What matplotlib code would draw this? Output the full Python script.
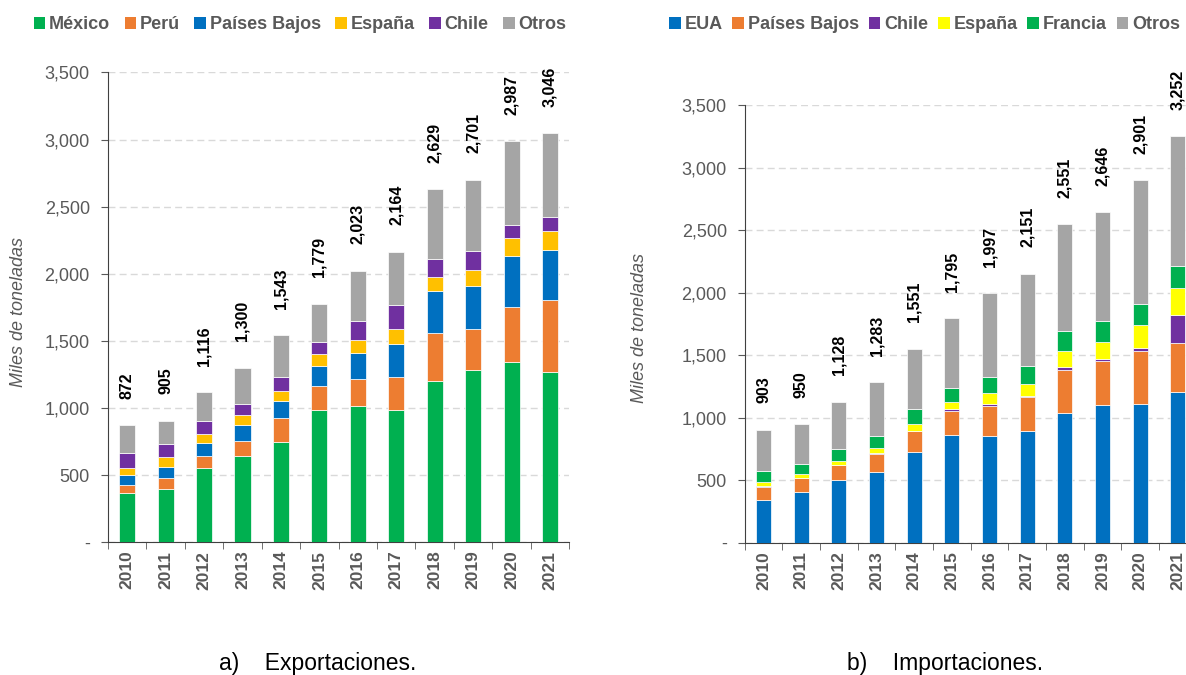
import matplotlib.pyplot as plt
import numpy as np
from matplotlib.patches import Patch
from matplotlib.ticker import FuncFormatter

plt.rcParams['font.family'] = ['Liberation Sans', 'DejaVu Sans']

years = [str(y) for y in range(2010, 2022)]

# a) Exportaciones (miles de toneladas)
exp_mexico = [370, 400, 557, 646, 746, 989, 1019, 989, 1198, 1280, 1345, 1265]
exp_peru = [57, 80, 87, 112, 181, 175, 199, 246, 363, 311, 410, 543]
exp_paises_bajos = [75, 82, 99, 119, 122, 149, 192, 244, 308, 321, 376, 370]
exp_espana = [55, 72, 67, 70, 77, 87, 94, 110, 110, 117, 139, 139]
exp_chile = [107, 102, 93, 85, 107, 89, 147, 176, 129, 144, 97, 104]
exp_otros = [208, 169, 213, 268, 310, 290, 372, 399, 521, 528, 620, 625]
exp_total = [872, 905, 1116, 1300, 1543, 1779, 2023, 2164, 2629, 2701, 2987, 3046]

# b) Importaciones (miles de toneladas)
imp_eua = [342, 408, 499, 566, 726, 864, 856, 896, 1035, 1104, 1112, 1208]
imp_paises_bajos = [106, 110, 121, 147, 168, 190, 240, 272, 347, 352, 422, 387]
imp_chile = [2, 2, 2, 2, 3, 13, 14, 6, 24, 14, 26, 227]
imp_espana = [33, 30, 30, 40, 53, 56, 88, 96, 128, 138, 182, 218]
imp_francia = [91, 82, 95, 100, 117, 117, 130, 144, 160, 166, 168, 176]
imp_otros = [329, 318, 381, 428, 484, 555, 669, 737, 857, 872, 991, 1036]
imp_total = [903, 950, 1128, 1283, 1551, 1795, 1997, 2151, 2551, 2646, 2901, 3252]

exp_series = [('México', exp_mexico, '#00B050'), ('Perú', exp_peru, '#ED7D31'),
              ('Países Bajos', exp_paises_bajos, '#0070C0'), ('España', exp_espana, '#FFC000'),
              ('Chile', exp_chile, '#7030A0'), ('Otros', exp_otros, '#A5A5A5')]
imp_series = [('EUA', imp_eua, '#0070C0'), ('Países Bajos', imp_paises_bajos, '#ED7D31'),
              ('Chile', imp_chile, '#7030A0'), ('España', imp_espana, '#FFFF00'),
              ('Francia', imp_francia, '#00B050'), ('Otros', imp_otros, '#A5A5A5')]

gray = '#595959'


def fmt(v, pos):
    return '-' if v == 0 else f'{v:,.0f}'


def stacked(ax, series, totals, width):
    x = np.arange(len(years))
    bottom = np.zeros(len(years))
    for name, vals, color in series:
        ax.bar(x, vals, width, bottom=bottom, color=color, edgecolor='white',
               linewidth=0.5, zorder=3)
        bottom += np.array(vals)
    for xi, t in zip(x, totals):
        ax.annotate(f'{t:,}', (xi, t), xytext=(0, 19), textcoords='offset points',
                    rotation=90, ha='center', va='bottom', fontsize=11.5,
                    fontweight='bold', color='black', annotation_clip=False)

    ax.set_xlim(-0.5, len(years) - 0.5)
    ax.set_ylim(0, 3500)
    ax.set_yticks(range(0, 3501, 500))
    ax.yaxis.set_major_formatter(FuncFormatter(fmt))
    ax.set_xticks(x)
    ax.set_xticklabels(years, rotation=90, fontsize=12.5, fontweight='bold', color=gray)
    ax.set_xticks(np.arange(-0.5, len(years)), minor=True)
    ax.tick_params(axis='x', which='major', length=0, pad=6)
    ax.tick_params(axis='x', which='minor', length=5, color=gray, direction='out')
    ax.tick_params(axis='y', length=5, color=gray, labelsize=13, labelcolor=gray, pad=8)
    ax.grid(axis='y', color='#D9D9D9', linestyle=(0, (5, 3)), linewidth=1, zorder=0)
    for s in ['top', 'right']:
        ax.spines[s].set_visible(False)
    for s in ['left', 'bottom']:
        ax.spines[s].set_color('#404040')
    ax.set_ylabel('Miles de toneladas', fontsize=13, style='italic', color=gray)


fig = plt.figure(figsize=(11.86, 6.75), dpi=100)

ax1 = fig.add_axes([0.091, 0.1966, 0.389, 0.696])
stacked(ax1, exp_series, exp_total, 0.42)
ax1.yaxis.set_label_coords(-0.175, 0.49)

ax2 = fig.add_axes([0.628, 0.196, 0.381, 0.648])
stacked(ax2, imp_series, imp_total, 0.4)
ax2.yaxis.set_label_coords(-0.215, 0.49)

for series, cx, sp in [(exp_series, 0.253, 0.8), (imp_series, 0.7795, 0.55)]:
    handles = [Patch(facecolor=c, label=n) for n, v, c in series]
    fig.legend(handles=handles, loc='center', bbox_to_anchor=(cx, 0.963), ncol=6,
               frameon=False, handlelength=0.65, handleheight=0.65, handletextpad=0.2,
               columnspacing=sp, prop={'size': 13, 'weight': 'bold'}, labelcolor=gray)

fig.text(0.268, 0.008, 'a)    Exportaciones.', ha='center', fontsize=16.5)
fig.text(0.797, 0.008, 'b)    Importaciones.', ha='center', fontsize=16.5)

fig.savefig('out.png', dpi=100)
